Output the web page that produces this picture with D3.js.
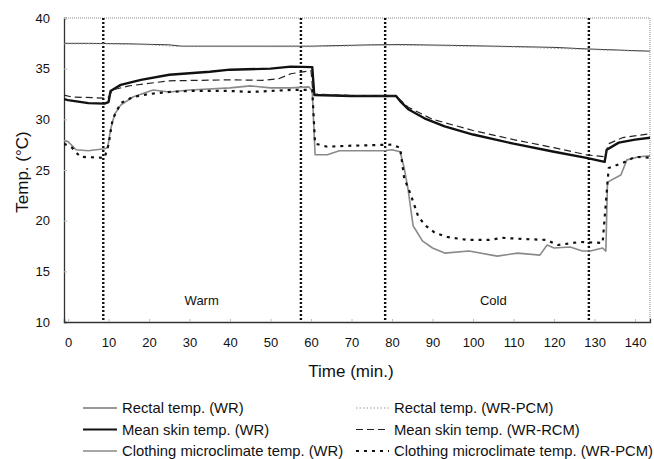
<!doctype html>
<html>
<head>
<meta charset="utf-8"/>
<title>Temp. (°C)</title>
<script src="https://d3js.org/d3.v7.min.js"></script>
<style>
  body { margin: 0; background: #fff; }
  text { font-family: "Liberation Sans", Arial, sans-serif; fill: #111; }
</style>
</head>
<body>
<div id="chart"></div>
<script>
// time (min.) / temperature (°C)
var rectalWR = [[-1,37.5],[5,37.5],[15,37.45],[25,37.35],[28,37.22],[60,37.22],[75,37.35],[82,37.38],[95,37.3],[110,37.18],[120,37.1],[128,36.95],[144,36.72]];
var rectalPCM = [[-1,37.45],[10,37.45],[20,37.35],[28,37.18],[60,37.16],[80,37.33],[110,37.14],[128,36.9],[144,36.68]];
var skinWR = [[-1,32.0],[0,31.9],[5,31.6],[9,31.55],[10,31.7],[10.5,32.8],[13,33.4],[18,33.9],[25,34.4],[35,34.7],[40,34.9],[50,35.0],[55,35.2],[60.3,35.15],[60.8,32.4],[70,32.3],[79,32.3],[81,32.3],[82,31.8],[84,31.0],[88,30.1],[93,29.3],[100,28.5],[110,27.6],[120,26.8],[128,26.2],[132.5,25.8],[133,27.0],[136,27.7],[140,28.0],[144,28.2]];
var skinRCM = [[-1,32.4],[1,32.2],[9,32.1],[10,32.2],[11,32.9],[15,33.3],[25,33.8],[40,33.9],[48,33.85],[52,34.0],[55,34.5],[60,34.8],[60.5,32.5],[70,32.35],[81,32.3],[84,31.2],[90,30.0],[100,28.9],[110,28.0],[120,27.2],[128,26.5],[132.5,26.3],[133.5,27.6],[137,28.2],[144,28.6]];
var clothWR = [[-1,27.9],[0,27.8],[2,27.0],[5,26.9],[9,27.1],[9.8,27.2],[10.5,29.0],[11.5,30.5],[13,31.4],[16,32.2],[21,32.9],[25,32.7],[30,32.9],[40,33.1],[45,33.3],[50,33.1],[55,33.1],[59.5,33.2],[60.3,32.8],[61,26.5],[64,26.5],[67,26.9],[72,26.9],[78,26.9],[80,27.0],[82,26.8],[83,25.2],[84,23.0],[85.2,19.5],[87.5,18.0],[90,17.3],[93,16.8],[99,17.0],[106,16.5],[111,16.8],[116.5,16.6],[118.3,17.6],[120,17.3],[124,17.4],[127,17.0],[129,17.0],[132,17.3],[132.8,17.0],[133.2,23.8],[136.5,24.5],[138,26.0],[141,26.3],[144,26.4]];
var clothPCM = [[-1,27.6],[1,27.2],[3,26.3],[9,26.2],[10,27.5],[11,30.0],[13,31.6],[16,32.2],[20,32.5],[25,32.7],[30,32.8],[40,32.8],[45,32.7],[50,32.8],[55,32.9],[60.3,32.9],[61,27.6],[64,27.3],[70,27.4],[80,27.5],[82,27.2],[83,24.2],[84.4,22.8],[86.4,20.5],[88,19.6],[90.6,18.8],[93.6,18.4],[98.5,18.1],[104,18.1],[107.4,18.3],[112,18.2],[118,18.1],[121,17.6],[126.4,17.9],[132,17.8],[133.5,25.2],[137,25.7],[140,26.3],[144,26.2]];

var phaseLines = [8.7, 57.5, 78.3, 128.6];
var phaseLabels = [["Warm", 33], ["Cold", 105]];
var xTicks = [0,10,20,30,40,50,60,70,80,90,100,110,120,130,140];
var yTicks = [10,15,20,25,30,35,40];

var series = [
  {name: "Rectal temp. (WR)", data: rectalWR, color: "#333", width: 1, dash: null},
  {name: "Rectal temp. (WR-PCM)", data: rectalPCM, color: "#999", width: 1, dash: "1.5,2"},
  {name: "Mean skin temp. (WR)", data: skinWR, color: "#111", width: 2.4, dash: null},
  {name: "Mean skin temp. (WR-RCM)", data: skinRCM, color: "#222", width: 1.2, dash: "7,4"},
  {name: "Clothing microclimate temp. (WR)", data: clothWR, color: "#8a8a8a", width: 1.6, dash: null},
  {name: "Clothing microclimate temp. (WR-PCM)", data: clothPCM, color: "#111", width: 2.2, dash: "3,5"}
];

var W = 654, H = 459;
var pL = 64, pR = 650, pT = 18, pB = 322;

var svg = d3.select("#chart").append("svg")
  .attr("width", W).attr("height", H);

var x = d3.scaleLinear().domain([-1, 143.7]).range([pL, pR]);
var y = d3.scaleLinear().domain([10, 40]).range([pB, pT]);

svg.append("defs").append("clipPath").attr("id", "clip")
  .append("rect").attr("x", pL).attr("y", pT)
  .attr("width", pR - pL).attr("height", pB - pT);

// frame: top and right are faint dotted
svg.append("line").attr("x1", pL).attr("x2", pR).attr("y1", pT).attr("y2", pT)
  .attr("stroke", "#888").attr("stroke-width", 1).attr("stroke-dasharray", "1,1");
svg.append("line").attr("x1", pR).attr("x2", pR).attr("y1", pT).attr("y2", pB)
  .attr("stroke", "#888").attr("stroke-width", 1).attr("stroke-dasharray", "1,1");

// axes
var yAxis = svg.append("g").attr("transform", "translate(" + pL + ",0)")
  .call(d3.axisLeft(y).tickValues(yTicks).tickSize(-3).tickPadding(14));
var xAxis = svg.append("g").attr("transform", "translate(0," + pB + ")")
  .call(d3.axisBottom(x).tickValues(xTicks).tickSize(-3).tickPadding(16));
[yAxis, xAxis].forEach(function(g) {
  g.select(".domain").attr("stroke", "#333").attr("stroke-width", 1.3);
  g.selectAll(".tick line").attr("stroke", "#bbb");
  g.selectAll(".tick text").attr("font-size", 13).attr("fill", "#111")
    .attr("font-family", "Liberation Sans, Arial, sans-serif");
});

// phase dividers
svg.append("g").selectAll("line").data(phaseLines).enter().append("line")
  .attr("x1", function(d) { return x(d); }).attr("x2", function(d) { return x(d); })
  .attr("y1", pT).attr("y2", pB)
  .attr("stroke", "#111").attr("stroke-width", 2.4).attr("stroke-dasharray", "2,2");

svg.append("g").selectAll("text").data(phaseLabels).enter().append("text")
  .attr("x", function(d) { return x(d[1]); }).attr("y", 305)
  .attr("text-anchor", "middle").attr("font-size", 13)
  .text(function(d) { return d[0]; });

// lines
var line = d3.line().x(function(d) { return x(d[0]); }).y(function(d) { return y(d[1]); });
svg.append("g").attr("clip-path", "url(#clip)")
  .selectAll("path").data(series).enter().append("path")
  .attr("d", function(d) { return line(d.data); })
  .attr("fill", "none")
  .attr("stroke", function(d) { return d.color; })
  .attr("stroke-width", function(d) { return d.width; })
  .attr("stroke-dasharray", function(d) { return d.dash; })
  .attr("stroke-linejoin", "round");

// axis titles
svg.append("text").attr("x", 351).attr("y", 377).attr("text-anchor", "middle")
  .attr("font-size", 17).text("Time (min.)");
svg.append("text").attr("transform", "translate(28,172) rotate(-90)")
  .attr("text-anchor", "middle").attr("font-size", 17).text("Temp. (°C)");

// legend, two columns
var legend = svg.append("g").selectAll("g").data(series).enter().append("g")
  .attr("transform", function(d, i) {
    var col = i % 2, row = Math.floor(i / 2);
    return "translate(" + (col ? 356 : 83) + "," + (408 + row * 21.5) + ")";
  });
legend.append("line").attr("x1", 0).attr("x2", function(d, i) { return i % 2 ? 33 : 34; })
  .attr("y1", 0).attr("y2", 0)
  .attr("stroke", function(d) { return d.color; })
  .attr("stroke-width", function(d) { return Math.min(d.width, 2); })
  .attr("stroke-dasharray", function(d) { return d.dash; });
legend.append("text").attr("x", function(d, i) { return i % 2 ? 38 : 39; }).attr("y", 5)
  .attr("font-size", 14.8).text(function(d) { return d.name; });
</script>
</body>
</html>
